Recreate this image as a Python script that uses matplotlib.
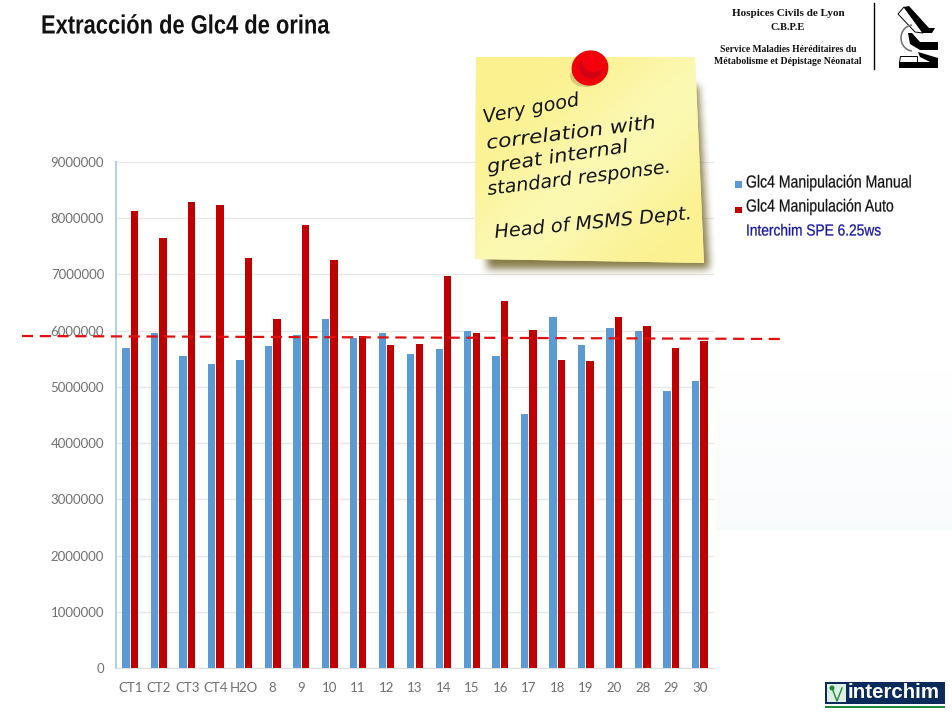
import numpy as np
import matplotlib
matplotlib.use("Agg")
import matplotlib.pyplot as plt
from matplotlib.patches import Polygon, Rectangle, Circle, Ellipse, Arc
from matplotlib.patheffects import AbstractPathEffect
from matplotlib.path import Path
from matplotlib.transforms import Affine2D

categories = ["CT1", "CT2", "CT3", "CT4", "H2O", "8", "9", "10", "11", "12", "13",
              "14", "15", "16", "17", "18", "19", "20", "28", "29", "30"]
manual = [5700000, 5960000, 5550000, 5400000, 5470000, 5730000, 5920000, 6200000,
          5870000, 5960000, 5580000, 5680000, 5990000, 5550000, 4520000, 6250000,
          5750000, 6050000, 6000000, 4920000, 5110000]
auto = [8120000, 7650000, 8290000, 8230000, 7290000, 6200000, 7880000, 7260000,
        5900000, 5750000, 5770000, 6980000, 5960000, 6530000, 6020000, 5480000,
        5460000, 6250000, 6090000, 5690000, 5820000]
yticks = [0, 1000000, 2000000, 3000000, 4000000, 5000000, 6000000, 7000000, 8000000, 9000000]
note_lines = ["Very good", "correlation with", "great internal", "standard response.",
              "Head of MSMS Dept."]

W, H = 952, 717
BLUE = "#5B9BD5"
RED = "#C00000"
SANS = "Liberation Sans"


class Squeeze(AbstractPathEffect):
    # no narrow font installed, so scale the glyphs sideways
    def __init__(self, sx, lw=0.0):
        super().__init__()
        self.sx = sx
        self.lw = lw

    def draw_path(self, renderer, gc, tpath, affine, rgbFace=None):
        gc0 = renderer.new_gc()
        gc0.copy_properties(gc)
        if self.lw:
            gc0.set_linewidth(self.lw)
            gc0.set_foreground(rgbFace)
        renderer.draw_path(gc0, tpath, Affine2D().scale(self.sx, 1) + affine, rgbFace)
        gc0.restore()


fig = plt.figure(figsize=(W / 100, H / 100), dpi=100, facecolor="white")

# chart
ax = fig.add_axes([116 / W, 1 - 668 / H, 598 / W, 506 / H])
x = np.arange(len(categories))
ax.bar(x - 0.15, manual, width=0.26, color=BLUE, zorder=3)
ax.bar(x + 0.15, auto, width=0.26, color=RED, zorder=3)
ax.set_xlim(-0.5, len(categories) - 0.5)
ax.set_ylim(0, 9000000)
ax.set_yticks(yticks)
ax.set_yticklabels([str(v) for v in yticks], fontsize=9.5, color="#707070", family="Lato")
ax.set_xticks(x)
ax.set_xticklabels(categories, fontsize=9.5, color="#707070", family="Lato")
ax.tick_params(axis="y", length=0, pad=8.5)
ax.tick_params(axis="x", length=0, pad=10)
ax.grid(axis="y", color="#e8e8e8", lw=1, zorder=0)
for s in ["top", "right"]:
    ax.spines[s].set_visible(False)
ax.spines["left"].set_color("#b5d0ea")
ax.spines["left"].set_linewidth(1.5)
ax.spines["bottom"].set_color("#e0e0e0")

# overlay in pixel coordinates for the slide furniture
ov = fig.add_axes([0, 0, 1, 1], facecolor="none")

# faint background patch at right
bg = np.ones((64, 1, 4))
bg[..., :3] = [0.92, 0.95, 0.97]
bg[..., 3] = np.linspace(0, 0.3, 64).reshape(-1, 1)
ov.imshow(bg, extent=[716, W, 530, 370], aspect="auto", zorder=0)

ov.plot([22, 785], [336, 339], color="#e01010", lw=1.6, ls=(0, (5, 3)), zorder=4)

ov.text(41, 33.5, "Extracción de Glc4 de orina", fontsize=19, fontweight="bold", family=SANS,
        color="#111111", va="baseline", ha="left", path_effects=[Squeeze(0.83)])

# header block
serif = "Liberation Serif"
ov.text(788, 13, "Hospices Civils de Lyon", family=serif, fontsize=8, fontweight="bold",
        ha="center", va="center", color="#111111")
ov.text(788, 28, "C.B.P.E", family=serif, fontsize=7.5, fontweight="bold",
        ha="center", va="center", color="#111111")
ov.text(788, 50, "Service Maladies Héréditaires du", family=serif, fontsize=6.9, fontweight="bold",
        ha="center", va="center", color="#111111")
ov.text(788, 61, "Métabolisme et Dépistage Néonatal", family=serif, fontsize=7, fontweight="bold",
        ha="center", va="center", color="#111111")
ov.plot([873.5, 873.5], [3, 69], color="black", lw=1, zorder=4)

# microscope logo
ov.add_patch(Polygon([(898, 14), (904, 7), (923, 33), (915, 32)], closed=True,
                     facecolor="white", edgecolor="black", lw=0.7, zorder=5))
ov.add_patch(Polygon([(904, 7), (909, 6), (929, 28), (935, 28), (932, 33), (923, 33)],
                     closed=True, color="black", lw=0, zorder=6))
ov.add_patch(Arc((913, 38), 24, 26, theta1=95, theta2=265, color="#777777", lw=1.2, zorder=5))
ov.add_patch(Polygon([(908, 33), (912, 33), (920, 42), (938, 42), (938, 50), (920, 50), (910, 44)],
                     closed=True, color="black", lw=0, zorder=6))
ov.add_patch(Polygon([(918, 52), (938, 58), (938, 68), (899, 68), (899, 62), (930, 62), (920, 57)],
                     closed=True, color="black", lw=0, zorder=6))
ov.add_patch(Polygon([(900, 56), (917, 56), (917, 62), (899, 62)], closed=True,
                     facecolor="white", edgecolor="black", lw=0.7, zorder=5))

# legend
ov.add_patch(Rectangle((735, 181), 7, 6.5, color=BLUE, lw=0, zorder=5))
ov.add_patch(Rectangle((735, 206.5), 7, 6.5, color=RED, lw=0, zorder=5))
ov.text(746, 183, "Glc4 Manipulación Manual", family=SANS, fontsize=12.5, va="center",
        color="#111111", path_effects=[Squeeze(0.81, 0.15)])
ov.text(746, 207, "Glc4 Manipulación Auto", family=SANS, fontsize=12.5, va="center",
        color="#111111", path_effects=[Squeeze(0.81, 0.15)])
ov.text(746, 231, "Interchim SPE 6.25ws", family=SANS, fontsize=11.5, va="center",
        color="#1a1aa0", path_effects=[Squeeze(0.86, 0.2)])

# sticky note: blurred shadow, then gradient paper
sx0, sy0, sx1, sy1 = 460, 40, 730, 295
gx, gy = np.meshgrid(np.arange(sx0, sx1), np.arange(sy0, sy1))
shadow_shape = Path([(492, 95), (698, 85), (709, 268), (486, 268)])
mask = shadow_shape.contains_points(np.c_[gx.ravel(), gy.ravel()]).reshape(gx.shape).astype(float)
kernel = np.ones(9) / 9
for _ in range(2):
    mask = np.apply_along_axis(lambda r: np.convolve(r, kernel, mode="same"), 0, mask)
    mask = np.apply_along_axis(lambda r: np.convolve(r, kernel, mode="same"), 1, mask)
shadow = np.zeros(mask.shape + (4,))
shadow[..., :3] = [0.42, 0.37, 0.12]
shadow[..., 3] = mask * 0.8
ov.imshow(shadow, extent=[sx0, sx1, sy1, sy0], aspect="auto", zorder=5)

note = [(476, 57), (695, 57), (704, 263), (475, 259)]
u = np.linspace(0, 1, 128)
ramp = (u.reshape(1, -1) + u.reshape(-1, 1)) / 2
glow = np.exp(-((ramp - 0.55) / 0.22) ** 2)
img = np.zeros((128, 128, 3))
img[..., 0] = 0.985
img[..., 1] = 0.945 + 0.03 * glow
img[..., 2] = 0.56 + 0.14 * glow
paper = Polygon(note, closed=True, color="#FBF39A", lw=0, zorder=6)
ov.add_patch(paper)
im = ov.imshow(img, extent=[475, 704, 263, 57], aspect="auto", zorder=6.5)
im.set_clip_path(paper)

# pin
ov.add_patch(Ellipse((586, 76), 32, 22, color="#7a7030", alpha=0.3, lw=0, zorder=7))
ov.add_patch(Ellipse((590, 68), 37, 35, angle=-20, color="#F00008", lw=0, zorder=8))
ov.add_patch(Ellipse((591, 67), 24, 23, color="#D20012", lw=0, zorder=9))
ov.add_patch(Ellipse((594, 62), 23, 20, color="#F4000C", lw=0, zorder=10))

# note text, rotated, stretched to the width of the handwriting
note_pos = [(484, 123), (487, 149), (488, 173), (488, 195), (495, 238)]
note_rot = [10.5, 7, 8.5, 7, 5.5]
note_stretch = [1.03, 1.16, 1.11, 1.02, 1.03]
for line, (nx, ny), rot, sx in zip(note_lines, note_pos, note_rot, note_stretch):
    ov.text(nx, ny, line, family="DejaVu Sans", style="oblique", fontsize=13.5, rotation=rot,
            rotation_mode="anchor", va="baseline", ha="left", color="#151515", zorder=11,
            path_effects=[Squeeze(sx)])

# interchim logo
ov.add_patch(Rectangle((825, 682), 120, 21.5, color="#0B2A5C", lw=0, zorder=5))
ov.add_patch(Rectangle((825, 706), 120, 2, color="#1E8A3C", lw=0, zorder=5))
ov.add_patch(Rectangle((827, 684), 19, 18, color="#dfeee2", lw=0, zorder=6))
ov.add_patch(Circle((832, 688), 2.5, color="#1E8A3C", lw=0, zorder=7))
ov.plot([832, 837, 842], [688, 701, 688], color="#1E8A3C", lw=1, zorder=7)
ov.text(848, 693, "interchim", family=SANS, fontweight="bold", fontsize=14.8,
        color="white", va="center", ha="left", zorder=7)

ov.set_xlim(0, W)
ov.set_ylim(H, 0)
ov.axis("off")

fig.savefig("out.png", dpi=100)
